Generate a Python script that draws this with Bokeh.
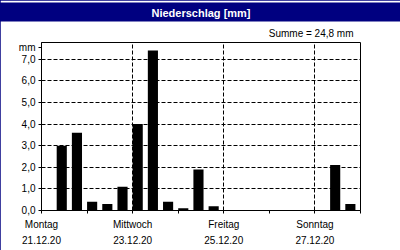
from bokeh.plotting import figure
from bokeh.models import Range1d, FixedTicker, LinearAxis, Title, Grid
from bokeh.embed import file_html
from bokeh.resources import INLINE

# 8-hour precipitation sums, Mon 21.12.20 00:00 .. Mon 28.12.20 00:00
interval_hours = 8
precip = [0.0, 3.0, 3.6, 0.4, 0.3, 1.1, 4.0, 7.4, 0.4, 0.1, 1.9, 0.2,
          0.0, 0.0, 0.0, 0.0, 0.0, 0.0, 0.0, 2.1, 0.3]
day_ticks = [0, 24, 48, 72, 96, 120, 144, 168]
day_names = {0: "Montag", 48: "Mittwoch", 96: "Freitag", 144: "Sonntag"}
day_dates = {0: "21.12.20", 48: "23.12.20", 96: "25.12.20", 144: "27.12.20"}
grid_days = [48, 96, 144]
y_ticks = [0, 1, 2, 3, 4, 5, 6, 7]
unit_pos = 7.54
title_text = "Niederschlag [mm]"
sum_text = "Summe = 24,8 mm"
unit_text = "mm"

NAVY = "#000080"
FONT = "Liberation Sans"

p = figure(width=400, height=250, output_backend="svg", toolbar_location=None,
           x_range=Range1d(0, 168), y_range=Range1d(0, 7.77),
           min_border_left=41, min_border_right=40, min_border_top=40,
           min_border_bottom=40, x_axis_type=None, y_axis_type=None)
p.background_fill_color = "white"
p.border_fill_color = "white"
p.outline_line_color = "black"
p.outline_line_width = 1
p.styles = {"outline": "1px solid " + NAVY, "outline-offset": "-1px"}

lefts = [i * interval_hours for i in range(len(precip))]
rights = [l + interval_hours * 2 / 3 for l in lefts]
p.quad(left=lefts, right=rights, bottom=0, top=precip,
       fill_color="black", line_color=None)

# x axis: day names
xa = LinearAxis(ticker=FixedTicker(ticks=day_ticks))
xa.major_label_overrides = {t: day_names.get(t, "") for t in day_ticks}
xa.major_tick_out = 3
xa.major_tick_in = 0
xa.minor_tick_out = 0
xa.minor_tick_in = 0
xa.major_label_standoff = 5
xa.axis_line_color = "black"
xa.major_label_text_font = FONT
xa.major_label_text_font_size = "10px"
xa.major_label_text_color = "black"
p.add_layout(xa, "below")

# second x axis row: dates
xa2 = LinearAxis(ticker=FixedTicker(ticks=day_ticks))
xa2.major_label_overrides = {t: day_dates.get(t, "") for t in day_ticks}
xa2.major_tick_out = 0
xa2.major_tick_in = 0
xa2.minor_tick_out = 0
xa2.minor_tick_in = 0
xa2.major_label_standoff = 3
xa2.axis_line_color = None
xa2.major_label_text_font = FONT
xa2.major_label_text_font_size = "10px"
xa2.major_label_text_color = "black"
p.add_layout(xa2, "below")

y_all = y_ticks + [unit_pos]
ya = LinearAxis(ticker=FixedTicker(ticks=y_all))
labels = {t: f"{t:.1f}".replace(".", ",") for t in y_ticks}
labels[unit_pos] = unit_text
ya.major_label_overrides = labels
ya.major_tick_out = 3
ya.major_tick_in = 0
ya.minor_tick_out = 0
ya.minor_tick_in = 0
ya.major_label_standoff = 3
ya.major_label_text_font = FONT
ya.major_label_text_font_size = "10px"
ya.major_label_text_color = "black"
p.add_layout(ya, "left")

xg = Grid(dimension=0, ticker=FixedTicker(ticks=grid_days),
          grid_line_color="black", grid_line_dash="4 2", grid_line_width=1)
yg = Grid(dimension=1, ticker=FixedTicker(ticks=y_ticks[1:]),
          grid_line_color="black", grid_line_dash="4 2", grid_line_width=1)
p.add_layout(xg)
p.add_layout(yg)

# "Summe" line (nearest to the frame), then the navy header bar
p.add_layout(Title(text=sum_text, align="right", offset=7, standoff=8,
                   text_font=FONT, text_font_size="10px",
                   text_font_style="normal", text_color="black",
                   padding=0), "above")
p.add_layout(Title(text=title_text, align="center", offset=-3, standoff=0,
                   text_font=FONT, text_font_size="11px",
                   text_font_style="bold", text_color="white",
                   background_fill_color=NAVY, background_fill_alpha=1.0,
                   padding=dict(left=180, right=180, top=4, bottom=3)), "above")

open("out.html", "w").write(file_html(p, INLINE))
